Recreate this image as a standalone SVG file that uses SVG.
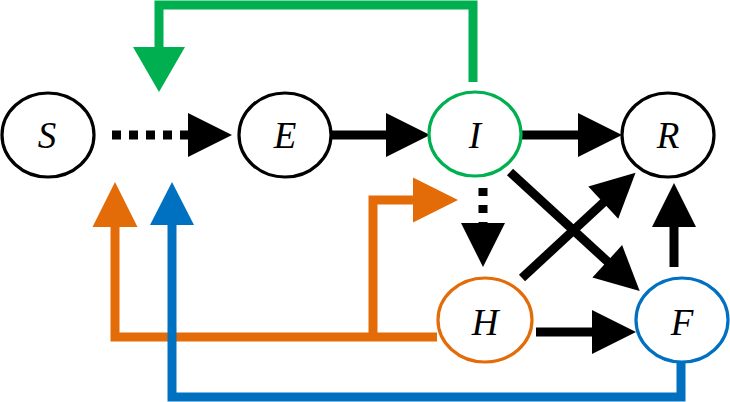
<svg xmlns="http://www.w3.org/2000/svg" width="730" height="402" viewBox="0 0 730 402">
<style>
.node ellipse{fill:#fff;stroke-width:3.2}
.node text{font-family:"Liberation Serif","Times New Roman",serif;font-style:italic;font-size:37px;text-anchor:middle;fill:#000}
.c{fill:none;stroke-width:9}
.k{stroke:#000}
.g{stroke:#00B050}
.o{stroke:#E36C09}
.b{stroke:#0070C0}
</style>
<defs>
<marker id="ak" markerUnits="userSpaceOnUse" markerWidth="46" markerHeight="46" refX="1" refY="22" orient="auto" viewBox="0 0 46 46" overflow="visible"><path d="M0,0 L44,22 L0,44 Z" fill="#000"/></marker>
<marker id="ag" markerUnits="userSpaceOnUse" markerWidth="52" markerHeight="52" refX="1" refY="26" orient="auto" viewBox="0 0 52 52" overflow="visible"><path d="M0,0 L45,26 L0,52 Z" fill="#00B050"/></marker>
<marker id="ao" markerUnits="userSpaceOnUse" markerWidth="46" markerHeight="46" refX="1" refY="22.5" orient="auto" viewBox="0 0 46 46" overflow="visible"><path d="M0,0 L45,22.5 L0,45 Z" fill="#E36C09"/></marker>
<marker id="ab" markerUnits="userSpaceOnUse" markerWidth="46" markerHeight="46" refX="1" refY="22" orient="auto" viewBox="0 0 46 46" overflow="visible"><path d="M0,0 L43,22 L0,44 Z" fill="#0070C0"/></marker>
</defs>
<g id="connectors">
<path class="c k" d="M112,135 H189" stroke-dasharray="9 8" marker-end="url(#ak)"/>
<path class="c k" d="M332,135 H387" marker-end="url(#ak)"/>
<path class="c k" d="M522,135 H579" marker-end="url(#ak)"/>
<path class="c k" d="M536,332 H593" marker-end="url(#ak)"/>
<path class="c k" d="M674,267 V226" marker-end="url(#ak)"/>
<path class="c k" d="M483,188 V224" stroke-dasharray="8 9" marker-end="url(#ak)"/>
<path class="c k" d="M510,172 L608,262" marker-end="url(#ak)"/>
<path class="c k" d="M522,278 L604,202" marker-end="url(#ak)"/>
<path class="c g" d="M473,82 V5 H159 V48" stroke-width="8" marker-end="url(#ag)"/>
<path class="c o" d="M437,337 H115 V226" marker-end="url(#ao)"/>
<path class="c o" d="M373,337 V200 H414" marker-end="url(#ao)"/>
<path class="c b" d="M681,363 V397 H172 V224" marker-end="url(#ab)"/>
</g>
<g id="node-S" class="node"><ellipse cx="48" cy="135" rx="46" ry="42" stroke="#000"/><text x="47" y="148">S</text></g>
<g id="node-E" class="node"><ellipse cx="285" cy="135" rx="46" ry="42" stroke="#000"/><text x="285" y="148">E</text></g>
<g id="node-I" class="node"><ellipse cx="475" cy="134" rx="46" ry="42" stroke="#00B050"/><text x="475" y="148">I</text></g>
<g id="node-R" class="node"><ellipse cx="668" cy="135" rx="46" ry="42" stroke="#000"/><text x="668" y="148">R</text></g>
<g id="node-H" class="node"><ellipse cx="485" cy="320" rx="47" ry="42" stroke="#E36C09"/><text x="485" y="335">H</text></g>
<g id="node-F" class="node"><ellipse cx="682" cy="320" rx="46" ry="42" stroke="#0070C0"/><text x="682" y="335">F</text></g>
</svg>
